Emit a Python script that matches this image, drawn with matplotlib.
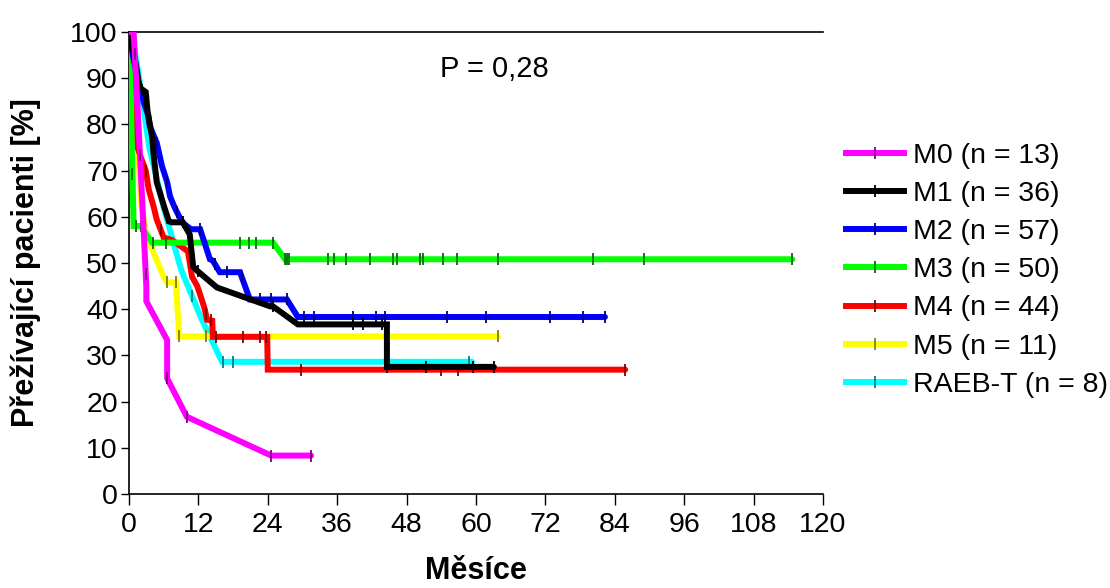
import matplotlib
matplotlib.use("Agg")
import matplotlib.pyplot as plt
import numpy as np
from matplotlib.lines import Line2D

plt.rcParams['font.family'] = ['Liberation Sans', 'DejaVu Sans']

# ---- data (time in months, survival in %) ----
labels = ["M0 (n = 13)", "M1 (n = 36)", "M2 (n = 57)", "M3 (n = 50)",
          "M4 (n = 44)", "M5 (n = 11)", "RAEB-T (n = 8)"]
colors = ["#FF00FF", "#000000", "#0000FF", "#00FF00", "#FF0000", "#FFFF00", "#00FFFF"]
tick_colors = ["#800080", "#000000", "#000080", "#007000", "#800000", "#808000", "#008080"]

m0_t = [0, 0.8, 1.8, 3.0, 3.0, 6.6, 6.6, 10.0, 24.6, 31.5]
m0_s = [100, 100, 76, 45, 41.7, 33.3, 25.0, 16.7, 8.3, 8.3]
m0_c = [1.0, 1.9, 2.9, 6.6, 6.6, 10.0, 24.6, 31.5]

m1_t = [0, 1.2, 1.8, 2.9, 3.2, 4.0, 4.3, 4.8, 6.05, 6.9, 7.4, 9.3, 10.5, 11.1, 11.9,
        15.2, 24.4, 24.9, 29.2, 44.6, 44.6, 63.1]
m1_s = [100, 93, 88, 87, 83, 77.2, 73, 67.5, 62.3, 59, 58.8, 58.8, 56.2, 49.2, 48.2,
        44.7, 40.6, 40.6, 36.7, 36.7, 27.5, 27.5]
m1_c = [2.3, 9.3, 11.9, 24.9, 38.7, 40.5, 43.7, 44.6, 51.4, 59.5, 63.1]

m2_t = [0, 0.5, 1.5, 2.5, 3.3, 3.6, 4.8, 5.7, 6.6, 7.1, 7.8, 8.3, 9.2, 10.7, 12.3,
        14.0, 14.5, 15.7, 19.2, 20.9, 27.3, 29.2, 82.3]
m2_s = [100, 96, 90, 85, 82, 79.6, 76, 71, 67.5, 64.4, 62.3, 61, 58.8, 57.3, 57.3,
        50.8, 50.5, 48, 48, 42.1, 42.1, 38.3, 38.3]
m2_c = [0.6, 4.8, 6.6, 8.3, 12.3, 14.9, 17.0, 19.5, 22.7, 24.6, 27.3, 30.3, 32.0,
        38.7, 42.7, 44.3, 55.0, 61.7, 72.8, 78.5, 82.3]

m3_t = [0, 0.3, 0.5, 0.8, 2.0, 4.0, 24.9, 27.0, 114.7]
m3_s = [100, 88, 75, 58, 58, 54.4, 54.4, 50.8, 50.8]
m3_c = [0.6, 1.2, 2.0, 4.2, 6.4, 19.2, 20.8, 22.0, 24.9, 27.0, 27.3, 27.6, 34.4, 35.5,
        37.5, 41.7, 45.7, 46.4, 50.3, 50.9, 54.3, 56.7, 63.8, 80.2, 89.1, 114.7]

m4_t = [0, 0.6, 1.5, 2.0, 2.9, 3.4, 4.3, 4.8, 6.0, 7.4, 10.2, 10.9, 11.8, 12.6, 13.1,
        13.5, 14.4, 14.5, 23.9, 24.0, 85.8]
m4_s = [100, 90, 75, 73, 70, 66, 62, 59.4, 55.5, 55, 52.5, 47, 45, 42, 40,
        37.7, 37.5, 34, 34, 26.9, 26.9]
m4_c = [2.3, 2.9, 5.5, 13.3, 14.2, 15.0, 19.7, 22.7, 23.7, 29.7, 54.0, 56.9, 85.8]

m5_t = [0, 1.0, 2.0, 3.0, 6.0, 6.6, 8.1, 8.7, 63.8]
m5_s = [100, 91, 64, 56, 47, 45.8, 45.8, 34.1, 34.1]
m5_c = [6.6, 8.1, 8.7, 13.3, 63.8]

rt_t = [0, 1.0, 2.0, 2.7, 3.5, 6.0, 9.0, 12.5, 16.1, 59.3]
rt_s = [100, 96, 88, 82, 75, 62, 48.6, 38, 28.6, 28.6]
rt_c = [10.9, 16.2, 18.0, 58.8]

curves_t = [m0_t, m1_t, m2_t, m3_t, m4_t, m5_t, rt_t]
curves_s = [m0_s, m1_s, m2_s, m3_s, m4_s, m5_s, rt_s]
censors = [m0_c, m1_c, m2_c, m3_c, m4_c, m5_c, rt_c]

x_ticks = list(range(0, 121, 12))
y_ticks = list(range(0, 101, 10))

# ---- figure ----
fig = plt.figure(figsize=(11.10, 5.88), dpi=100)
ax = fig.add_axes([0.1162, 0.160, 0.6252, 0.7856])

order = list(range(len(labels)))[::-1]
for z, i in enumerate(order):
    t = curves_t[i]
    s = curves_s[i]
    ax.plot(t, s, color=colors[i], lw=4.3, solid_joinstyle='miter', zorder=2 + z,
            solid_capstyle='round')
    cs = np.interp(censors[i], t, s)
    ax.plot(censors[i], cs, linestyle='none', marker='|', ms=9, mew=1.3,
            color=tick_colors[i], zorder=2 + z)

leg_handles = [Line2D([], [], color=colors[i], lw=4.3, marker='|', ms=9, mew=1.3,
                      mec=tick_colors[i]) for i in range(len(labels))]
fig.legend(leg_handles, labels, loc='upper left', bbox_to_anchor=(0.752, 0.777),
           frameon=False, fontsize=20.5, handlelength=2.05, handletextpad=0.3,
           labelspacing=0.43, numpoints=1, borderaxespad=0)

ax.set_xlim(0, 120)
ax.set_ylim(0, 100)
ax.set_xticks(x_ticks)
ax.set_yticks(y_ticks)
ax.tick_params(axis='y', labelsize=20.5, direction='out', length=6, width=1, pad=2)
ax.tick_params(axis='x', labelsize=20.5, direction='out', length=8, width=1, pad=5)
ax.spines['right'].set_visible(False)
for sp in ['left', 'bottom', 'top']:
    ax.spines[sp].set_linewidth(1.2)

ax.text(0.526, 0.92, "P = 0,28", transform=ax.transAxes, fontsize=21,
        ha='center', va='center')

ax.set_xlabel("Měsíce", fontsize=22, fontweight='bold', labelpad=13)
ax.set_ylabel("Přežívající pacienti [%]", fontsize=22, fontweight='bold', labelpad=21)

fig.savefig("out.png", dpi=100)
